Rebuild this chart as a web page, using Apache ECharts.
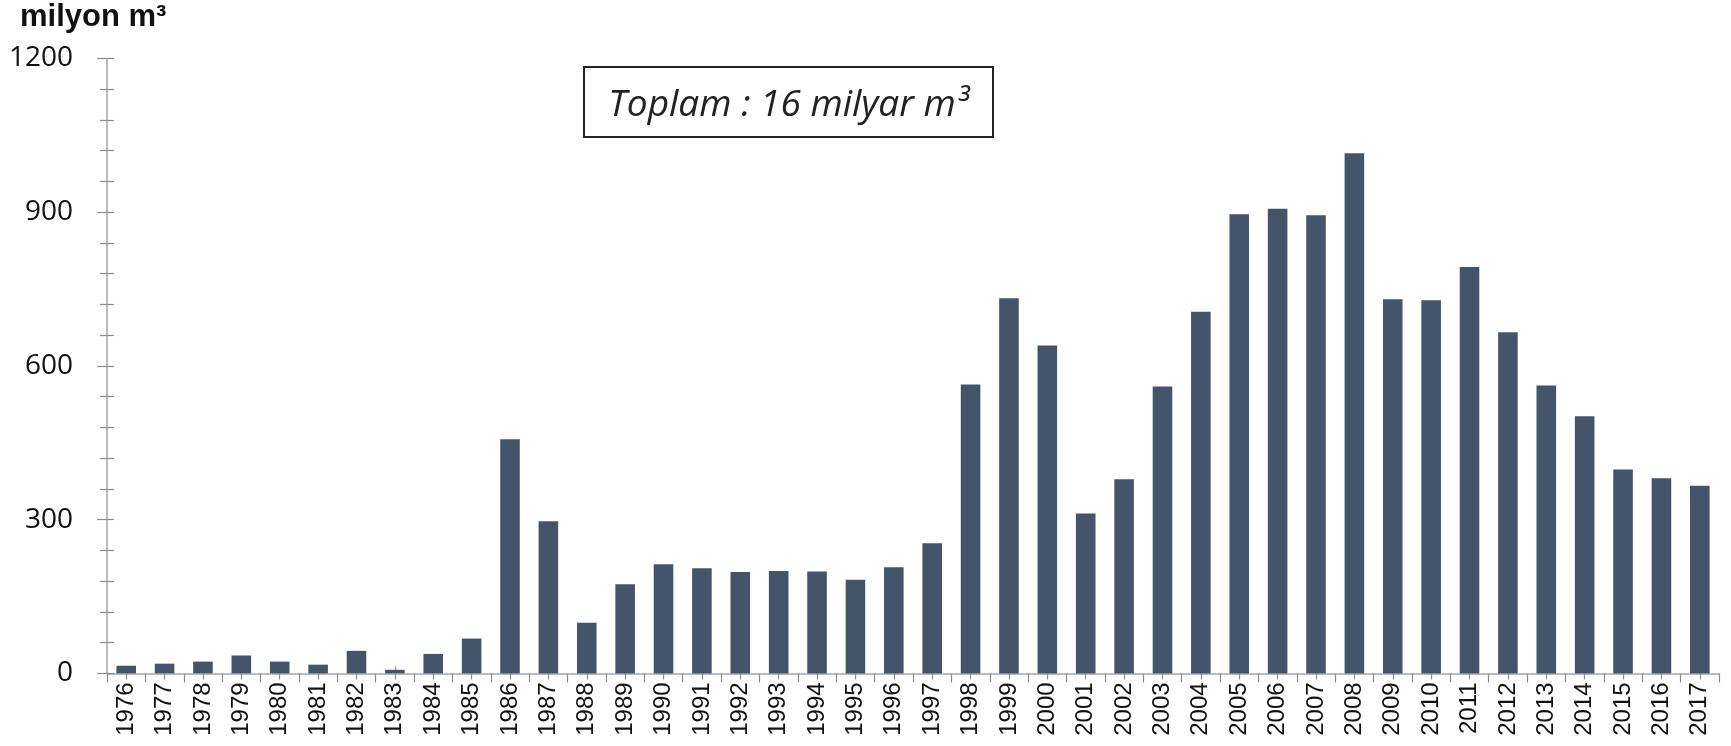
<!DOCTYPE html>
<html>
<head>
<meta charset="utf-8">
<script src="https://cdn.jsdelivr.net/npm/echarts@6/dist/echarts.min.js"></script>
<style>
html,body{margin:0;padding:0;background:#fff;}
#c{width:1731px;height:746px;}
</style>
</head>
<body>
<div id="c"></div>
<script>
var years = ['1976','1977','1978','1979','1980','1981','1982','1983','1984','1985',
  '1986','1987','1988','1989','1990','1991','1992','1993','1994','1995',
  '1996','1997','1998','1999','2000','2001','2002','2003','2004','2005',
  '2006','2007','2008','2009','2010','2011','2012','2013','2014','2015',
  '2016','2017'];
var values = [15,19,23,35,23,17,44,7,38,68,
  457,297,99,174,213,205,198,200,199,183,
  207,254,564,732,640,312,379,560,706,896,
  907,894,1015,730,728,793,666,562,502,398,
  381,366];
var yTicks = [0,300,600,900,1200];
var unitLabel = 'milyon m³';
var totalLabel = 'Toplam : 16 milyar m³';

var chart = echarts.init(document.getElementById('c'), null, {renderer:'canvas'});
var axisGray = '#a6a6a6';
var tickGray = '#8c8c8c';
var common = {
  type:'category', data: years, position:'bottom', gridIndex:0,
  axisLine:{show:false}, axisLabel:{show:false}, splitLine:{show:false}
};
chart.setOption({
  animation:false,
  backgroundColor:'#fff',
  grid:{left:107, right:12, top:58.5, bottom:72.6, containLabel:false, outerBoundsMode:'none'},
  xAxis:[
    {type:'category', data: years, position:'bottom',
     axisLine:{show:true, lineStyle:{color:axisGray, width:1.5}},
     axisTick:{show:true, alignWithLabel:false, length:9, lineStyle:{color:tickGray, width:1.2}},
     axisLabel:{show:true, rotate:90, margin:9, fontFamily:'Liberation Sans', fontSize:24, color:'#111', hideOverlap:false, interval:0},
     splitLine:{show:false}},
    Object.assign({}, common, {axisTick:{show:true, alignWithLabel:true, inside:true, length:7, lineStyle:{color:tickGray, width:1.2}}}),
    Object.assign({}, common, {axisTick:{show:true, alignWithLabel:true, inside:false, length:6, lineStyle:{color:tickGray, width:1.2}}})
  ],
  yAxis:[
    {type:'value', min:yTicks[0], max:yTicks[yTicks.length-1], interval:yTicks[1]-yTicks[0],
     axisLine:{show:true, lineStyle:{color:axisGray, width:1.5}},
     axisTick:{show:true, length:10, lineStyle:{color:tickGray, width:1.2}},
     minorTick:{show:true, splitNumber:5, length:7, lineStyle:{color:tickGray, width:1.2}},
     axisLabel:{show:true, margin:34, fontFamily:'Open Sans', fontSize:28, color:'#111',
       formatter:function(v){return String(v);}},
     splitLine:{show:false}, minorSplitLine:{show:false}},
    {type:'value', min:yTicks[0], max:yTicks[yTicks.length-1], interval:yTicks[1]-yTicks[0], position:'left',
     axisLine:{show:false},
     axisTick:{show:true, inside:true, length:7, lineStyle:{color:tickGray, width:1.2}},
     minorTick:{show:true, splitNumber:5, length:7, lineStyle:{color:tickGray, width:1.2}},
     axisLabel:{show:false}, splitLine:{show:false}, minorSplitLine:{show:false}}
  ],
  series:[{
    type:'bar', data: values, xAxisIndex:0, yAxisIndex:0,
    barWidth:'51%', itemStyle:{color:'#44546A'}, z:1
  }],
  graphic:[
    {type:'text', x:20, y:2, style:{text:unitLabel, fontFamily:'Liberation Sans', fontWeight:'bold', fontSize:31, fill:'#111'}},
    {type:'rect', x:584, y:67, shape:{width:409, height:70}, style:{fill:'#fff', stroke:'#222', lineWidth:2}},
    {type:'text', x:788.5, y:105, style:{text:totalLabel, fontFamily:'Open Sans', fontStyle:'italic', fontSize:37, fill:'#222', align:'center', verticalAlign:'middle'}}
  ]
});
</script>
</body>
</html>
